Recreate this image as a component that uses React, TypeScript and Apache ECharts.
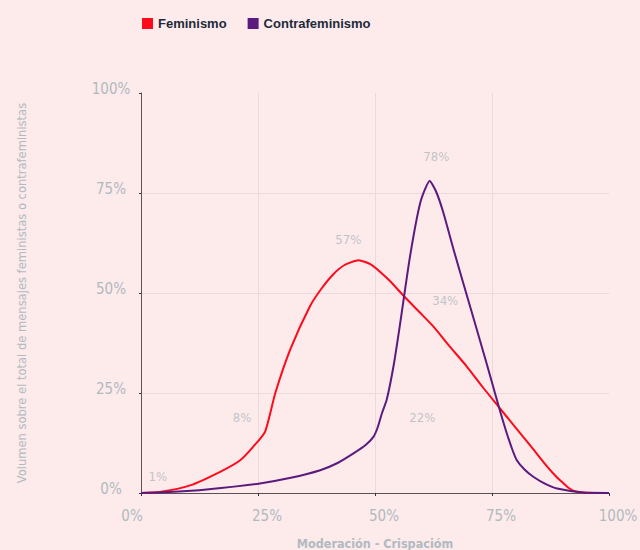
import React, { useEffect, useRef } from "react";
import * as echarts from "echarts";

const SERIES_NAMES = ["Feminismo", "Contrafeminismo"];
const SERIES_COLORS = ["#ff0a1a", "#5b1a7d"];

// [x (% moderación-crispación), y (% volumen)]
const FEMINISMO: [number, number][] = [
  [0, 0], [4, 0.25], [10.5, 1.9], [16.9, 5.3], [21.2, 8.2], [24, 11.6],
  [26.5, 15.3], [28.7, 25], [31.9, 35.9], [36.1, 46.7], [38.5, 51],
  [41.1, 54.7], [43.5, 57], [46.5, 58.2], [49, 57.2], [51, 55.4],
  [53.2, 53], [56.5, 48.8], [59.7, 45], [62.5, 41.6], [66, 36.6],
  [69.5, 31.8], [73, 26.5], [76.4, 21.6], [80, 16.4], [83.5, 11.4],
  [86.8, 6.6], [88.8, 4], [90.3, 2.4], [91.5, 1.2], [92.5, 0.5],
  [95, 0.05], [100, 0],
];

const CONTRAFEMINISMO: [number, number][] = [
  [0, 0], [7, 0.3], [14, 0.9], [25.4, 2.4], [32, 3.8], [38.3, 5.7],
  [42, 7.5], [45.4, 9.9], [48, 12], [49.7, 14.1], [50.6, 16.5],
  [51.5, 20], [52.5, 23.3], [54, 32], [55.4, 42.6], [57.5, 59.3],
  [59.7, 72.7], [61.7, 78], [63, 75.5], [64.5, 70.5], [67, 60],
  [70.4, 46.3], [73.9, 32.2], [76.4, 21.8], [78, 15.5], [79.3, 11],
  [80.3, 8.2], [82, 5.8], [83.9, 4], [86.5, 2.2], [88.9, 1.1],
  [94.5, 0.1], [100, 0],
];

const ANNOT_X = [3.6, 21.6, 44.3, 63.1, 65, 60.1];
const ANNOT_Y = [4.2, 19, 63.4, 84.2, 48.2, 19];
const ANNOT_TEXT = ["1%", "8%", "57%", "78%", "34%", "22%"];

const X_TICKS = [0, 25, 50, 75, 100];
const Y_TICKS = [0, 25, 50, 75, 100];

const X_NAME = "Moderación - Crispacióm";
const Y_NAME = "Volumen sobre el total de mensajes feministas o contrafeministas";

const COND = '"DejaVu Sans Condensed", "Liberation Sans Narrow", "Roboto", sans-serif';
const LABEL_COLOR = "#b0bac0";

export default function App() {
  const ref = useRef<HTMLDivElement>(null);

  useEffect(() => {
    if (!ref.current) return;
    const chart = echarts.init(ref.current, null, { renderer: "svg" });
    const option: any = {
      animation: false,
      backgroundColor: "#fdeaeb",
      legend: {
        data: SERIES_NAMES,
        left: 142,
        top: 17,
        padding: 0,
        icon: "rect",
        itemWidth: 11,
        itemHeight: 11,
        itemGap: 21,
        textStyle: {
          color: "#1d2a3b",
          fontSize: 13,
          fontWeight: "bold",
          fontFamily: '"Liberation Sans", Arial, sans-serif',
        },
      },
      grid: { left: 141, right: 31, top: 93, bottom: 57, containLabel: false, outerBoundsMode: "none" },
      xAxis: {
        type: "value",
        min: X_TICKS[0],
        max: X_TICKS[X_TICKS.length - 1],
        interval: 25,
        name: X_NAME,
        nameLocation: "middle",
        nameGap: 44,
        nameTextStyle: {
          color: LABEL_COLOR,
          fontSize: 12.5,
          fontWeight: "bold",
          fontFamily: COND,
        },
        axisLine: { show: true, lineStyle: { color: "#5a5256", width: 1 } },
        axisTick: { show: true, length: 3, lineStyle: { color: "#3a3236" } },
        splitLine: {
          show: true,
          showMinLine: false,
          showMaxLine: false,
          lineStyle: { color: "#ecd9db", width: 1 },
        },
        axisLabel: {
          margin: 15,
          formatter: (v: number) => (v === 0 ? `{a|${v}%}` : `{b|${v}%}`),
          rich: {
            a: { color: LABEL_COLOR, fontSize: 15, fontFamily: COND, padding: [0, 18, 0, 0] },
            b: { color: LABEL_COLOR, fontSize: 15, fontFamily: COND, padding: [0, 0, 0, 18] },
          },
        },
      },
      yAxis: {
        type: "value",
        min: Y_TICKS[0],
        max: Y_TICKS[Y_TICKS.length - 1],
        interval: 25,
        name: Y_NAME,
        nameLocation: "middle",
        nameGap: 113,
        nameTextStyle: {
          color: LABEL_COLOR,
          fontSize: 12.8,
          fontFamily: COND,
        },
        axisLine: { show: true, lineStyle: { color: "#5a5256", width: 1 } },
        axisTick: { show: true, length: 2, lineStyle: { color: "#3a3236" } },
        splitLine: {
          show: true,
          showMinLine: false,
          showMaxLine: false,
          lineStyle: { color: "#ecd9db", width: 1 },
        },
        axisLabel: {
          margin: 30,
          align: "center",
          formatter: (v: number) => `{a|${v}%}`,
          rich: {
            a: { color: LABEL_COLOR, fontSize: 15, fontFamily: COND, padding: [0, 0, 9, 0] },
          },
        },
      },
      series: [
        {
          name: SERIES_NAMES[0],
          type: "line",
          data: FEMINISMO,
          smooth: 0.2,
          showSymbol: false,
          lineStyle: { color: SERIES_COLORS[0], width: 2 },
          itemStyle: { color: SERIES_COLORS[0] },
          z: 3,
        },
        {
          name: SERIES_NAMES[1],
          type: "line",
          data: CONTRAFEMINISMO,
          smooth: 0.2,
          showSymbol: false,
          lineStyle: { color: SERIES_COLORS[1], width: 2 },
          itemStyle: { color: SERIES_COLORS[1] },
          z: 4,
        },
        {
          name: "annotations",
          type: "scatter",
          silent: true,
          symbolSize: 0,
          data: ANNOT_X.map((x, i) => [x, ANNOT_Y[i], ANNOT_TEXT[i]]),
          label: {
            show: true,
            position: "inside",
            color: LABEL_COLOR,
            fontSize: 13,
            fontFamily: COND,
            formatter: (p: any) => p.data[2],
          },
        },
      ],
    };
    chart.setOption(option);
    return () => chart.dispose();
  }, []);

  return (
    <div
      ref={ref}
      style={{ position: "fixed", left: 0, top: 0, width: 640, height: 550, background: "#fdeaeb" }}
    />
  );
}
